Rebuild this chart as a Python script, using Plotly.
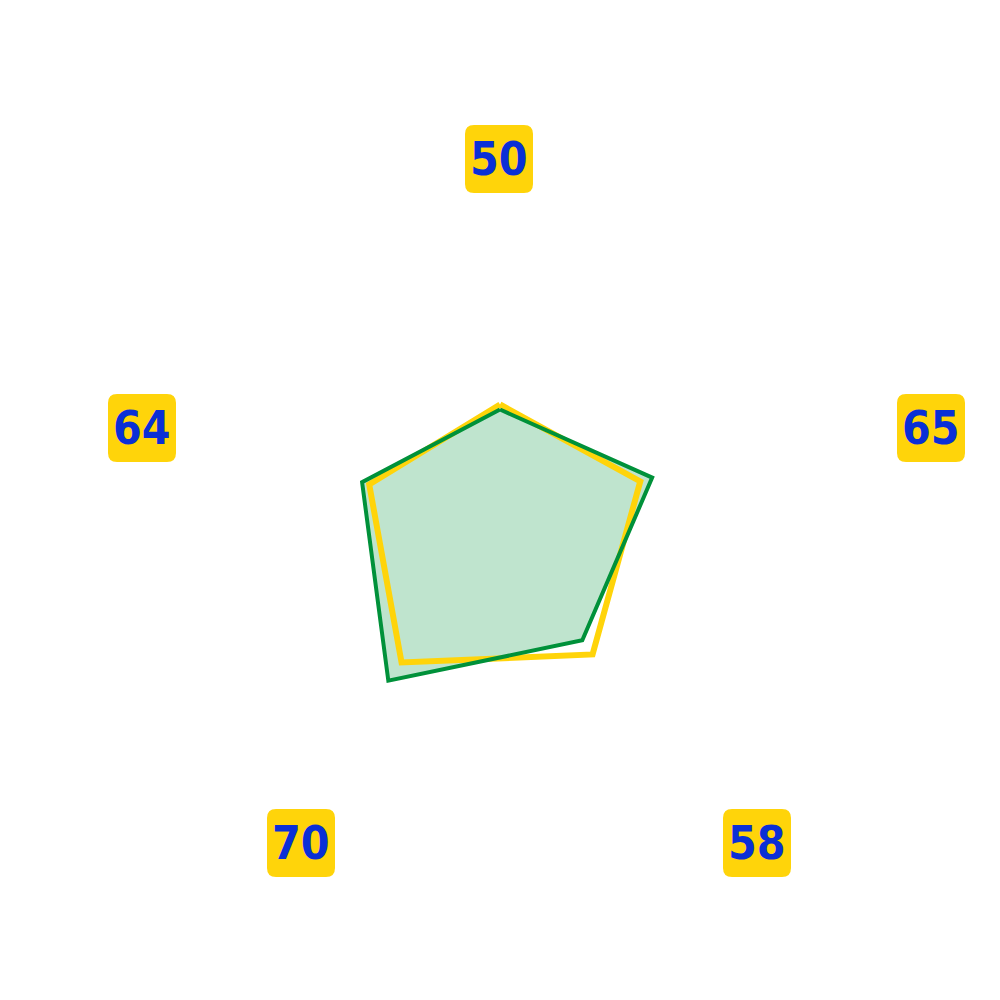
import plotly.graph_objects as go

# categories shown round the radar (clockwise from the top)
categories = ["50", "65", "58", "70", "64"]
series_yellow = [49, 59, 63, 67, 55]
series_green = [47, 64, 56, 76, 58]

YELLOW = "#ffd40a"
GREEN = "#00913a"
BLUE = "#0a2fd6"

# label box centres in pixels (page is 1000 x 1000)
label_px = [(499, 159), (931, 428), (757, 843), (301, 843), (142, 428)]
BOX = 68
RAD = 9


def closed(vals):
    return vals + vals[:1]


def rounded_rect(x0, y0, x1, y1, r):
    # path in paper coordinates, r given in paper units
    return (
        f"M {x0 + r},{y0} L {x1 - r},{y0} Q {x1},{y0} {x1},{y0 + r} "
        f"L {x1},{y1 - r} Q {x1},{y1} {x1 - r},{y1} "
        f"L {x0 + r},{y1} Q {x0},{y1} {x0},{y1 - r} "
        f"L {x0},{y0 + r} Q {x0},{y0} {x0 + r},{y0} Z"
    )


fig = go.Figure()
# green area first, so the yellow outline sits on top of the tint
fig.add_trace(
    go.Scatterpolar(
        r=closed(series_green),
        theta=closed(categories),
        mode="lines",
        line=dict(color="rgba(0,0,0,0)", width=0),
        fill="toself",
        fillcolor="rgba(0,146,60,0.25)",
    )
)
fig.add_trace(
    go.Scatterpolar(
        r=closed(series_yellow),
        theta=closed(categories),
        mode="lines",
        line=dict(color=YELLOW, width=6),
    )
)
fig.add_trace(
    go.Scatterpolar(
        r=closed(series_green),
        theta=closed(categories),
        mode="lines",
        line=dict(color=GREEN, width=4),
    )
)

# polar centre at (500, 527) px, radius 250 px for r = 100
cx, cy, R = 500, 527, 250
fig.update_layout(
    width=1000,
    height=1000,
    margin=dict(l=0, r=0, t=0, b=0),
    paper_bgcolor="white",
    showlegend=False,
    polar=dict(
        domain=dict(
            x=[(cx - R) / 1000, (cx + R) / 1000],
            y=[1 - (cy + R) / 1000, 1 - (cy - R) / 1000],
        ),
        bgcolor="white",
        angularaxis=dict(
            direction="clockwise",
            rotation=90,
            visible=False,
            showgrid=False,
        ),
        radialaxis=dict(range=[0, 100], visible=False, showgrid=False),
    ),
)

shapes = []
annotations = []
for text, (px_, py_) in zip(categories, label_px):
    x0, x1 = (px_ - BOX / 2) / 1000, (px_ + BOX / 2) / 1000
    y0, y1 = 1 - (py_ + BOX / 2) / 1000, 1 - (py_ - BOX / 2) / 1000
    shapes.append(
        dict(
            type="path",
            xref="paper",
            yref="paper",
            path=rounded_rect(x0, y0, x1, y1, RAD / 1000),
            fillcolor=YELLOW,
            line=dict(width=0),
            layer="above",
        )
    )
    annotations.append(
        dict(
            text=f"<b>{text}</b>",
            x=px_ / 1000,
            y=1 - py_ / 1000,
            xref="paper",
            yref="paper",
            xanchor="center",
            yanchor="middle",
            showarrow=False,
            font=dict(
                family="DejaVu Sans Condensed, sans-serif",
                size=46,
                color=BLUE,
            ),
        )
    )

fig.update_layout(shapes=shapes, annotations=annotations)
fig.write_html(
    "out.html",
    config={"displayModeBar": False},
    post_script="document.body.style.margin='0';",
)
